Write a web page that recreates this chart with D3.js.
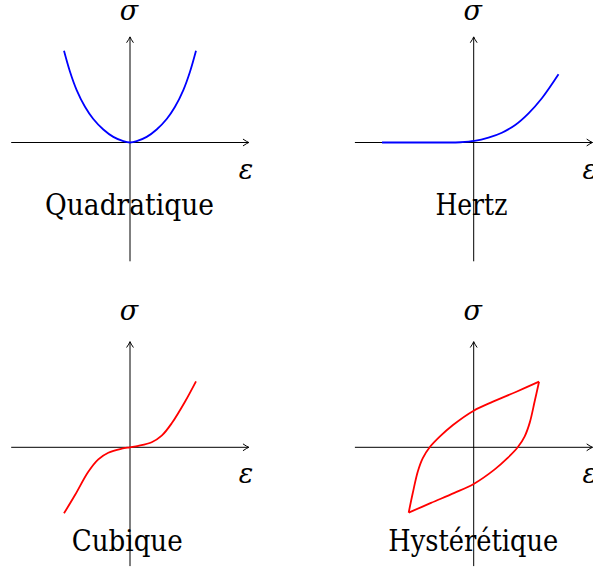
<!DOCTYPE html>
<html>
<head>
<meta charset="utf-8">
<script src="https://cdn.jsdelivr.net/npm/d3@7"></script>
<style>
  html, body { margin: 0; padding: 0; background: #fff; }
  svg { display: block; }
</style>
</head>
<body>
<svg id="chart" width="593" height="570"></svg>
<script>
// Four stress-strain laws, each drawn in its own pair of axes (strain ε, stress σ).
const lawNames = ["Quadratique", "Hertz", "Cubique", "Hystérétique"];

// Axis extents, in curve units
const xAxisExtent = [-1.8, 1.8];
const yAxisExtent = [-1.8, 1.6];

// Quadratique
const quadEps   = [-1, -0.909, -0.808, -0.682, -0.556, -0.404, -0.253, -0.101, 0, 0.101, 0.253, 0.404, 0.556, 0.682, 0.808, 0.909, 1];
const quadSigma = [1.391, 1.073, 0.795, 0.542, 0.356, 0.197, 0.085, 0.020, 0, 0.020, 0.085, 0.197, 0.356, 0.542, 0.795, 1.073, 1.391];

// Hertz (no stress in tension, ε^(3/2)-like in compression)
const hertzEps   = [-1.39, -0.9, -0.45, -0.2, 0.012, 0.224, 0.427, 0.629, 0.831, 1.033, 1.285];
const hertzSigma = [0, 0, 0, 0.004, 0.023, 0.073, 0.148, 0.265, 0.442, 0.67, 1.033];

// Cubique
const cubicEps   = [-1, -0.833, -0.632, -0.48, -0.329, -0.126, 0, 0.126, 0.329, 0.48, 0.632, 0.833, 1];
const cubicSigma = [-1, -0.723, -0.37, -0.182, -0.082, -0.021, 0, 0.021, 0.076, 0.176, 0.364, 0.691, 1];

// Hystérétique: loading branch (upper) and unloading branch (lower)
const hystUpperEps   = [-0.985, -0.924, -0.848, -0.773, -0.667, -0.515, -0.314, 0, 0.292, 0.647, 0.99];
const hystUpperSigma = [-0.99, -0.697, -0.37, -0.167, 0, 0.161, 0.338, 0.555, 0.691, 0.842, 0.994];
const hystLowerEps   = [-0.985, -0.647, -0.292, 0, 0.314, 0.515, 0.667, 0.773, 0.848, 0.924, 0.99];
const hystLowerSigma = [-0.99, -0.842, -0.691, -0.555, -0.338, -0.161, 0, 0.167, 0.37, 0.697, 0.994];

const BLUE = "#0000ff", RED = "#ff0000";
const UNIT = 66; // pixels per curve unit
const SERIF = "'DejaVu Serif', serif";

const panels = [
  { name: lawNames[0], ox: 130,   oy: 142.5, sigmaBase: 20,  capBase: 215,   capDx: -0.5, capW: 169,
    color: BLUE, branches: [[quadEps, quadSigma]] },
  { name: lawNames[1], ox: 473.7, oy: 142.5, sigmaBase: 20,  capBase: 215,   capDx: -2.3, capW: 72,
    color: BLUE, branches: [[hertzEps, hertzSigma]] },
  { name: lawNames[2], ox: 130,   oy: 447.3, sigmaBase: 320, capBase: 550.7, capDx: -2.8, capW: 111,
    color: RED,  branches: [[cubicEps, cubicSigma]] },
  { name: lawNames[3], ox: 473.7, oy: 447.3, sigmaBase: 320, capBase: 550.5, capDx: -0.4, capW: 170,
    color: RED,  branches: [[hystUpperEps, hystUpperSigma], [hystLowerEps, hystLowerSigma]] }
];

const svg = d3.select("#chart");

// Open arrow tip for the axes
svg.append("defs").append("marker")
  .attr("id", "tip")
  .attr("markerUnits", "userSpaceOnUse")
  .attr("viewBox", "-7 -5 9 10")
  .attr("refX", 0).attr("refY", 0)
  .attr("markerWidth", 9).attr("markerHeight", 10)
  .attr("orient", "auto")
  .append("path")
  .attr("d", "M-5.5,-3.2 Q-2,-0.8 0,0 Q-2,0.8 -5.5,3.2")
  .attr("fill", "none")
  .attr("stroke", "#000")
  .attr("stroke-width", 1)
  .attr("stroke-linecap", "round");

panels.forEach(p => {
  const x = d3.scaleLinear().domain([0, 1]).range([p.ox, p.ox + UNIT]);
  const y = d3.scaleLinear().domain([0, 1]).range([p.oy, p.oy - UNIT]);
  const g = svg.append("g");

  // axes
  g.append("line")
    .attr("x1", x(xAxisExtent[0])).attr("x2", x(xAxisExtent[1]))
    .attr("y1", y(0)).attr("y2", y(0))
    .attr("stroke", "#000").attr("stroke-width", 1)
    .attr("marker-end", "url(#tip)");
  g.append("line")
    .attr("x1", x(0)).attr("x2", x(0))
    .attr("y1", y(yAxisExtent[0])).attr("y2", y(yAxisExtent[1]))
    .attr("stroke", "#000").attr("stroke-width", 1)
    .attr("marker-end", "url(#tip)");

  // curve(s)
  const line = d3.line()
    .x(d => x(d[0]))
    .y(d => y(d[1]))
    .curve(d3.curveCatmullRom.alpha(0.5));
  p.branches.forEach(([eps, sig]) => {
    g.append("path")
      .attr("d", line(d3.zip(eps, sig)))
      .attr("fill", "none")
      .attr("stroke", p.color)
      .attr("stroke-width", 1.8)
      .attr("stroke-linejoin", "round");
  });

  // axis symbols
  g.append("text")
    .attr("x", x(0) - 1).attr("y", p.sigmaBase)
    .attr("text-anchor", "middle")
    .attr("font-family", SERIF)
    .attr("font-style", "italic")
    .attr("font-size", 27)
    .text("σ");
  g.append("text")
    .attr("x", p.ox + 116).attr("y", p.oy + 36)
    .attr("text-anchor", "middle")
    .attr("font-family", SERIF)
    .attr("font-style", "italic")
    .attr("font-size", 27)
    .text("ε");

  // law name
  g.append("text")
    .attr("x", p.ox + p.capDx).attr("y", p.capBase)
    .attr("text-anchor", "middle")
    .attr("font-family", SERIF)
    .attr("font-size", 29)
    .attr("textLength", p.capW)
    .attr("lengthAdjust", "spacingAndGlyphs")
    .text(p.name);
});
</script>
</body>
</html>
